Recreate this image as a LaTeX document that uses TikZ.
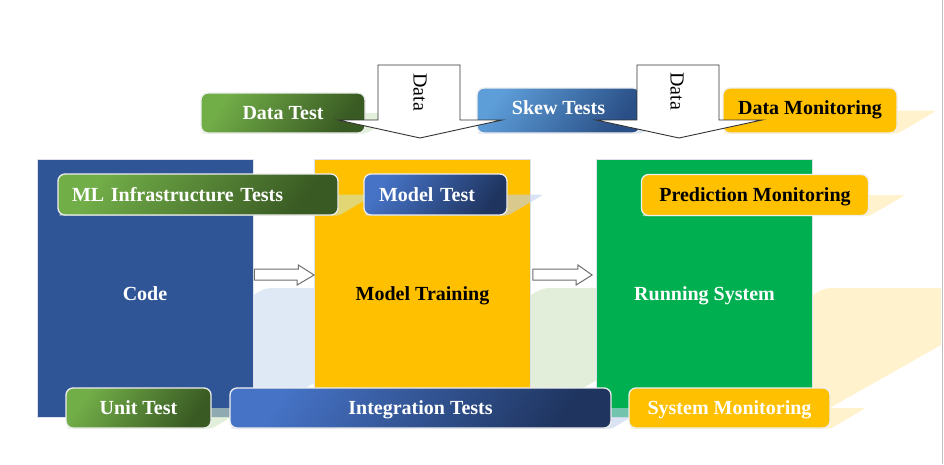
\documentclass[tikz,border=0pt]{standalone}
\usepackage{fontspec}
\setmainfont{Liberation Serif}
\usetikzlibrary{calc}
\definecolor{codeblue}{HTML}{2F5597}
\definecolor{trainyellow}{HTML}{FFC000}
\definecolor{rungreen}{HTML}{00B050}
\definecolor{boxedge}{HTML}{DDE2EA}
\definecolor{pilledge}{HTML}{EEEEEE}
\definecolor{greenL}{HTML}{72AE48}
\definecolor{greenD}{HTML}{395A23}
\definecolor{blueL}{HTML}{4673C6}
\definecolor{blueD}{HTML}{1F3560}
\definecolor{skyL}{HTML}{5D9DD8}
\definecolor{skyD}{HTML}{2A4F86}
\definecolor{shCode}{HTML}{DEE9F5}
\definecolor{shTrain}{HTML}{E2EED9}
\definecolor{shRun}{HTML}{FFF2CC}
\definecolor{gshad}{HTML}{CFE4C1}
\definecolor{bshad}{HTML}{C1D0EB}
\definecolor{yshad}{HTML}{FFEAAA}
\definecolor{arrowgray}{HTML}{6E6E6E}
\pgfdeclarelayer{bg}
\pgfdeclarelayer{shad}
\pgfdeclarelayer{pills}
\pgfdeclarelayer{fg}
\pgfsetlayers{bg,main,shad,pills,fg}
\newcommand{\bigfont}{\fontsize{20}{24}\selectfont\bfseries}
\newcommand{\datafont}{\fontsize{20}{24}\selectfont}
\begin{document}
\begin{tikzpicture}[x=1pt,y=-1pt,
  bigbox/.style={draw=boxedge, line width=0.8pt, minimum width=216pt, minimum height=258pt, inner sep=0pt},
  bigtext/.style={font=\bigfont, text height=16.6pt, text depth=3.4pt, yshift=-6pt},
  pill/.style={draw=pilledge, line width=1.3pt, rounded corners=7pt, inner sep=0pt,
    font=\bigfont, text height=16.6pt, text depth=3.4pt},
  highpill/.style={text height=13.6pt, text depth=6.4pt},
  greenpill/.style={pill, top color=greenL, bottom color=greenD, shading angle=55, text=white},
  bluepill/.style={pill, top color=blueL, bottom color=blueD, shading angle=55, text=white},
  skypill/.style={pill, top color=skyL, bottom color=skyD, shading angle=55, text=white},
  yellowpill/.style={pill, fill=trainyellow},
  pshadow/.style={fill opacity=0.6, draw=none, rounded corners=3pt},
  bshadow/.style={draw=none, rounded corners=6pt},
  blockarr/.style={draw=arrowgray, fill=white, line width=1pt, line join=miter},
  dataarr/.style={draw=black!80, fill=white, line width=0.9pt, line join=miter},
  datatext/.style={font=\datafont, rotate=-90, inner sep=0pt}
]
\useasboundingbox (0,0) rectangle (944,464);

% big process boxes
\node[bigbox, fill=codeblue, label={[bigtext, text=white]center:Code}] (code) at (145,288) {};
\node[bigbox, fill=trainyellow, label={[bigtext, text=black]center:Model Training}] (train) at (422.5,288) {};
\node[bigbox, fill=rungreen, label={[bigtext, text=white]center:Running System}] (run) at (704.5,288) {};

% shadows of the big boxes
\begin{pgfonlayer}{bg}
\begin{scope}
\clip (0,0) rectangle (941,464);
\fill[bshadow, shCode] (code.south west) -- (code.south east) -- ($(code.east)+(229,0)$) -- ($(code.west)+(229,0)$) -- cycle;
\fill[bshadow, shTrain] (train.south west) -- (train.south east) -- ($(train.east)+(229,0)$) -- ($(train.west)+(229,0)$) -- cycle;
\fill[bshadow, shRun] (run.south west) -- (run.south east) -- ($(run.east)+(229,0)$) -- ($(run.west)+(229,0)$) -- cycle;
\end{scope}
\end{pgfonlayer}

% block arrows between the boxes
\draw[blockarr] ($(code.east)+(1,-19)$) -- ++(44,0) -- ++(0,-4) -- ($(train.west)+(0,-13)$)
  -- ++(-17,10) -- ++(0,-5) -- ($(code.east)+(1,-8)$) -- cycle;
\draw[blockarr] ($(train.east)+(2,-19)$) -- ++(45,0) -- ++(0,-4) -- ($(run.west)+(-4,-13)$)
  -- ++(-16,10) -- ++(0,-5) -- ($(train.east)+(2,-8)$) -- cycle;

% pills
\begin{pgfonlayer}{pills}
\node[greenpill, minimum width=164pt, minimum height=40pt] (dtest) at (283,113) {Data Test};
\node[skypill, highpill, minimum width=163pt, minimum height=45pt] (skew) at (558.5,110.5) {Skew Tests};
\node[yellowpill, highpill, minimum width=174pt, minimum height=45pt] (dmon) at (810,110.5) {Data Monitoring};
\node[greenpill, minimum width=280pt, minimum height=41pt, inner xsep=14pt, text width=252pt, align=left] (mlinfra) at (198,194.5) {ML Infrastructure Tests};
\node[bluepill, minimum width=143pt, minimum height=41pt, inner xsep=15pt, text width=113pt, align=left] (mtest) at (435.5,194.5) {Model Test};
\node[yellowpill, minimum width=227pt, minimum height=41pt] (pmon) at (755,195) {Prediction Monitoring};
\node[greenpill, minimum width=145pt, minimum height=40pt] (unit) at (138.5,408) {Unit Test};
\node[bluepill, minimum width=381pt, minimum height=40pt] (integ) at (420.5,408) {Integration Tests};
\node[yellowpill, text=white, minimum width=201pt, minimum height=40pt] (smon) at (729.5,408) {System Monitoring};
\end{pgfonlayer}

% shadows of the pills
\begin{pgfonlayer}{shad}
\foreach \n/\s/\c in {dtest/35/gshad, skew/39/bshad, dmon/39/yshad, mlinfra/36/gshad, mtest/36/bshad, pmon/36/yshad, unit/35/gshad, integ/35/bshad, smon/35/yshad}{
  \fill[pshadow, \c] (\n.south west) -- (\n.south east) -- ($(\n.east)+(\s,0)$) -- ($(\n.west)+(\s,0)$) -- cycle;
}
\end{pgfonlayer}

% Data arrows
\begin{pgfonlayer}{fg}
\draw[dataarr] (378,65) -- (460,65) -- (460,120) -- (502,120) -- (420,138) -- (338,120) -- (378,120) -- cycle;
\node[datatext] (data1) at (420,92) {Data};
\draw[dataarr] (637,65) -- (719,65) -- (719,120) -- (762,120) -- (679,138) -- (596,120) -- (637,120) -- cycle;
\node[datatext] (data2) at (677,91) {Data};
\end{pgfonlayer}

% right frame line
\draw[black!25, line width=1pt] (942.8,0) -- (942.8,464);
\end{tikzpicture}
\end{document}
